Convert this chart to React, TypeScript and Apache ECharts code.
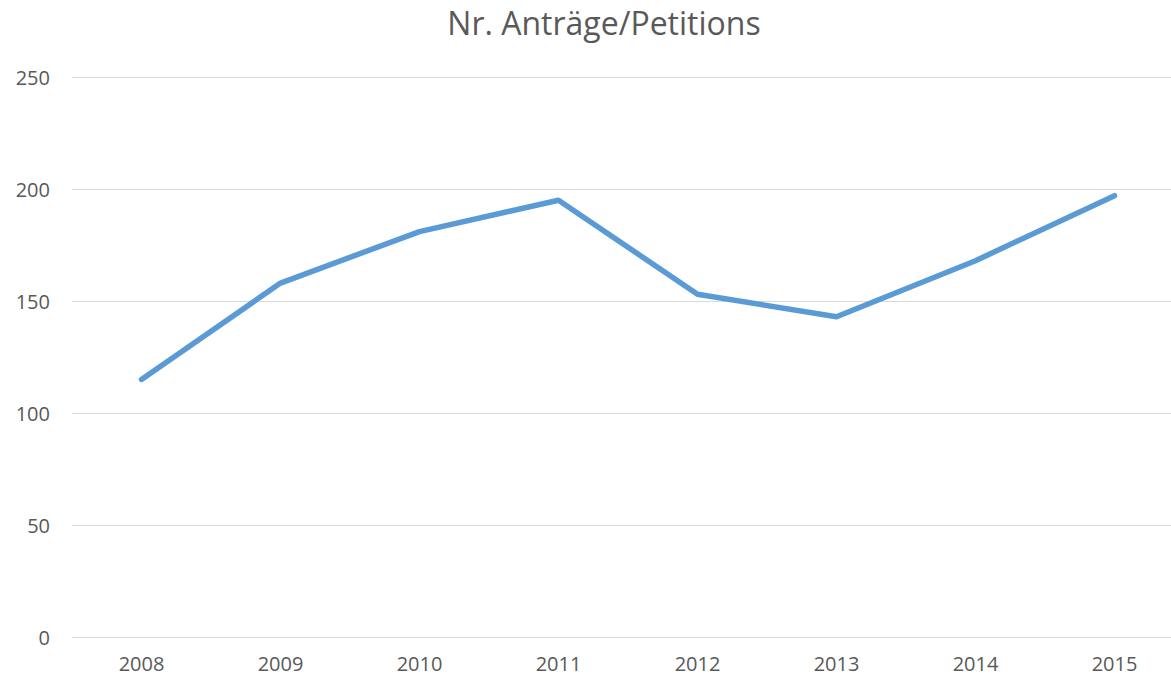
import React, { useEffect, useRef } from "react";
import * as echarts from "echarts";

const categories = ["2008", "2009", "2010", "2011", "2012", "2013", "2014", "2015"];
const values = [115, 158, 181, 195, 153, 143, 168, 197];
const titleText = "Nr. Anträge/Petitions";

export default function App() {
  const ref = useRef<HTMLDivElement>(null);
  useEffect(() => {
    if (!ref.current) return;
    const chart = echarts.init(ref.current, null, { renderer: "svg" });
    chart.setOption({
      animation: false,
      backgroundColor: "#ffffff",
      title: {
        text: titleText,
        left: 599,
        textAlign: "center",
        top: 1,
        textStyle: { fontFamily: "Open Sans", fontSize: 32, fontWeight: "normal", color: "#595959" },
      },
      grid: { left: 72, top: 77, right: 6, height: 560, containLabel: false },
      xAxis: {
        type: "category",
        data: categories,
        boundaryGap: true,
        axisLine: { show: true, lineStyle: { color: "#d9d9d9", width: 1 } },
        axisTick: { show: false },
        axisLabel: { color: "#595959", fontFamily: "Open Sans", fontSize: 20, margin: 16 },
      },
      yAxis: {
        type: "value",
        min: 0,
        max: 250,
        interval: 50,
        axisLine: { show: false },
        axisTick: { show: false },
        axisLabel: { color: "#595959", fontFamily: "Open Sans", fontSize: 20, margin: 22 },
        splitLine: { lineStyle: { color: "#d9d9d9", width: 1 } },
      },
      series: [
        {
          type: "line",
          data: values,
          symbol: "none",
          lineStyle: { color: "#5b9bd5", width: 5.5, cap: "round", join: "round" },
        },
      ],
    });
    return () => chart.dispose();
  }, []);
  return (
    <div style={{ position: "fixed", left: 0, top: 0, width: 1171, height: 681, overflow: "hidden" }}>
      <div ref={ref} style={{ position: "absolute", left: 0, top: 0, width: 1190, height: 681 }} />
    </div>
  );
}
